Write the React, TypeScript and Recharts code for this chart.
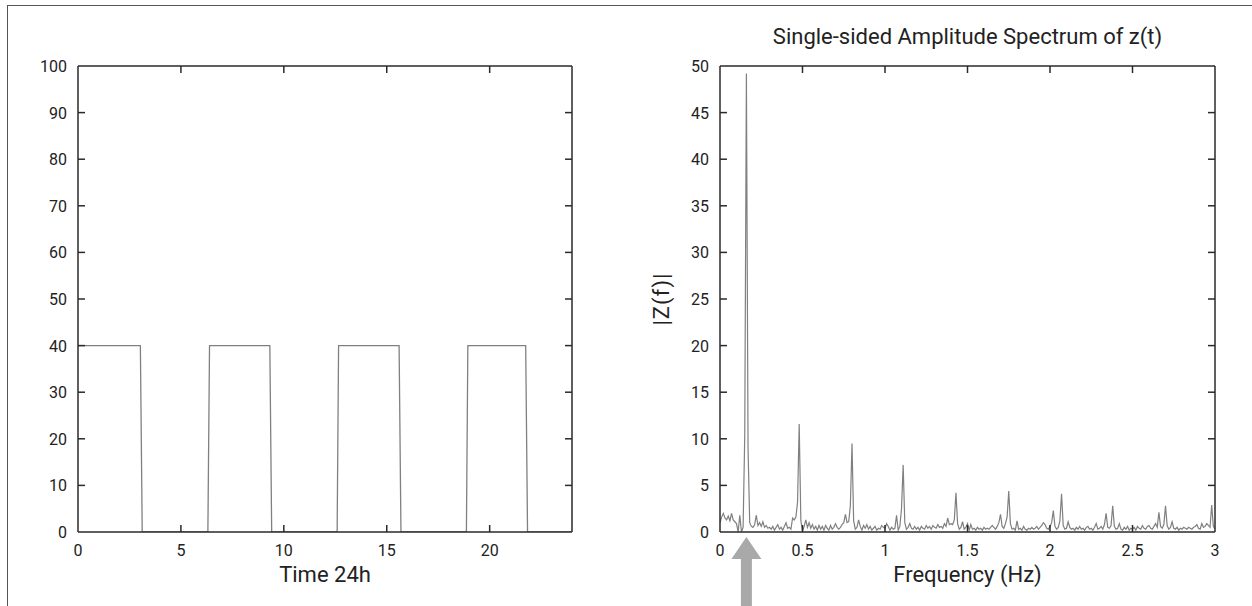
import React from "react";
import { LineChart, Line, XAxis, YAxis, ReferenceDot } from "recharts";

// ---------- Left chart data (square wave, Time 24h) ----------
const TIME_H = [0, 3.03, 3.12, 6.31, 6.39, 9.32, 9.41, 12.59, 12.66, 15.6, 15.69, 18.87, 18.94, 21.75, 21.84, 24];
const LEVEL = [40, 40, 0, 0, 40, 40, 0, 0, 40, 40, 0, 0, 40, 40, 0, 0];
const TIME_TICKS = [0, 5, 10, 15, 20];
const LEVEL_TICKS = [0, 10, 20, 30, 40, 50, 60, 70, 80, 90, 100];

// ---------- Right chart data (amplitude spectrum) ----------
const FREQ_STEP = 0.01; // Hz between samples
const AMPLITUDE = [
  // 0.00 - 0.09
  1.0, 1.6, 2.0, 1.5, 1.3, 1.7, 1.2, 2.0, 1.3, 1.1,
  // 0.10 - 0.19
  0.9, 0.0, 1.8, 0.0, 0.5, 10.4, 49.2, 9.0, 1.0, 0.6,
  // 0.20 - 0.29
  0.5, 0.8, 1.8, 0.7, 1.0, 0.6, 1.1, 0.5, 0.7, 0.4,
  // 0.30 - 0.39
  0.5, 0.3, 0.6, 0.2, 0.5, 0.8, 0.3, 0.5, 0.2, 0.6,
  // 0.40 - 0.49
  1.0, 0.4, 0.5, 0.3, 1.5, 1.3, 1.6, 3.2, 11.6, 1.2,
  // 0.50 - 0.59
  0.1, 0.6, 1.3, 0.5, 1.0, 0.4, 0.8, 0.3, 0.6, 0.2,
  // 0.60 - 0.69
  0.7, 0.3, 0.6, 0.2, 0.7, 0.4, 0.2, 0.7, 0.3, 0.5,
  // 0.70 - 0.79
  0.9, 0.5, 0.3, 0.5, 0.8, 1.0, 1.9, 1.0, 1.1, 2.8,
  // 0.80 - 0.89
  9.5, 1.2, 0.3, 0.5, 1.3, 0.6, 0.2, 0.7, 0.4, 0.8,
  // 0.90 - 0.99
  0.3, 0.6, 0.2, 0.4, 0.6, 0.2, 0.4, 0.3, 0.7, 0.5,
  // 1.00 - 1.09
  0.4, 0.9, 0.6, 0.2, 0.5, 0.3, 0.4, 1.8, 0.2, 0.6,
  // 1.10 - 1.19
  2.5, 7.2, 1.0, 0.3, 0.5, 0.9, 0.4, 0.3, 0.6, 0.3,
  // 1.20 - 1.29
  0.5, 0.2, 0.6, 0.4, 0.3, 0.7, 0.4, 0.6, 0.3, 0.7,
  // 1.30 - 1.39
  0.5, 0.4, 0.8, 0.5, 0.6, 0.4, 0.9, 0.6, 1.5, 0.8,
  // 1.40 - 1.49
  0.9, 0.8, 1.3, 4.2, 0.9, 0.3, 0.5, 1.1, 0.3, 0.5,
  // 1.50 - 1.59
  0.9, 0.2, 0.8, 0.3, 0.4, 0.2, 0.5, 0.3, 0.4, 0.2,
  // 1.60 - 1.69
  0.5, 0.3, 0.4, 0.3, 0.5, 0.7, 0.5, 0.3, 0.6, 1.0,
  // 1.70 - 1.79
  1.9, 0.6, 0.4, 0.9, 1.6, 4.4, 0.9, 0.3, 0.4, 0.2,
  // 1.80 - 1.89
  1.2, 0.3, 0.4, 0.2, 0.6, 0.3, 0.2, 0.4, 0.3, 0.5,
  // 1.90 - 1.99
  0.3, 0.4, 0.6, 0.3, 0.5, 0.7, 1.0, 0.8, 0.4, 0.3,
  // 2.00 - 2.09
  0.6, 1.0, 2.3, 0.6, 0.3, 0.5, 1.2, 4.1, 0.7, 0.3,
  // 2.10 - 2.19
  0.4, 1.1, 0.5, 0.3, 0.4, 0.2, 0.5, 0.3, 0.6, 0.3,
  // 2.20 - 2.29
  0.4, 0.2, 0.5, 0.6, 0.3, 0.4, 0.2, 0.5, 0.9, 0.3,
  // 2.30 - 2.39
  0.4, 0.6, 0.3, 0.8, 2.0, 0.5, 0.4, 0.7, 2.8, 0.6,
  // 2.40 - 2.49
  0.3, 0.4, 0.9, 0.3, 0.2, 0.5, 0.3, 0.6, 0.2, 0.4,
  // 2.50 - 2.59
  0.3, 0.5, 0.2, 0.6, 0.4, 0.3, 0.7, 0.4, 0.3, 0.6,
  // 2.60 - 2.69
  0.7, 0.4, 0.3, 0.6, 0.9, 0.5, 2.1, 0.6, 0.4, 0.8,
  // 2.70 - 2.79
  2.8, 0.7, 0.3, 0.5, 1.1, 0.4, 0.3, 0.5, 0.2, 0.4,
  // 2.80 - 2.89
  0.3, 0.5, 0.4, 0.3, 0.5, 0.4, 0.3, 0.5, 0.6, 0.8,
  // 2.90 - 2.99
  0.4, 0.3, 0.9, 0.5, 0.6, 0.9, 0.7, 0.5, 2.9, 0.6,
  // 3.00
  0.3,
];
const FREQ_TICKS = [0, 0.5, 1, 1.5, 2, 2.5, 3];
const AMP_TICKS = [0, 5, 10, 15, 20, 25, 30, 35, 40, 45, 50];
const ARROW_FREQ = 0.16;

const TITLE = "Single-sided Amplitude Spectrum of z(t)";
const LEFT_XLABEL = "Time 24h";
const RIGHT_XLABEL = "Frequency (Hz)";
const RIGHT_YLABEL = "|Z(f)|";

const timeData = TIME_H.map((t, i) => ({ t, v: LEVEL[i] }));
const specData = AMPLITUDE.map((a, i) => ({ f: Math.round(i * FREQ_STEP * 100) / 100, a }));

const FONT = "Roboto, 'Liberation Sans', sans-serif";
const AXIS = "#2a2a2a";
const LINE = "#808080";
const TICK_LEN = 7;
const TICK_FS = 16;
const LABEL_FS = 22;

const fmt = (v: number) => String(v);
const inner = (v: number, lo: number, hi: number) => v > lo + 1e-9 && v < hi - 1e-9;

const makeBottomTick = (lo: number, hi: number) => (props: any) => {
  const { x, y, payload } = props;
  const v = payload.value;
  return (
    <g>
      {inner(v, lo, hi) && <line x1={x} x2={x} y1={y} y2={y - TICK_LEN} stroke={AXIS} strokeWidth={1.5} />}
      <text x={x} y={y + 24} textAnchor="middle" fontSize={TICK_FS} fill="#222" fontFamily={FONT}>
        {fmt(v)}
      </text>
    </g>
  );
};

const makeTopTick = (lo: number, hi: number) => (props: any) => {
  const { x, y, payload } = props;
  const v = payload.value;
  if (!inner(v, lo, hi)) return <g />;
  return <line x1={x} x2={x} y1={y} y2={y + TICK_LEN} stroke={AXIS} strokeWidth={1.5} />;
};

const makeLeftTick = (lo: number, hi: number) => (props: any) => {
  const { x, y, payload } = props;
  const v = payload.value;
  return (
    <g>
      {inner(v, lo, hi) && <line x1={x} x2={x + TICK_LEN} y1={y} y2={y} stroke={AXIS} strokeWidth={1.5} />}
      <text x={x - 11} y={y + 6} textAnchor="end" fontSize={TICK_FS} fill="#222" fontFamily={FONT}>
        {fmt(v)}
      </text>
    </g>
  );
};

const makeRightTick = (lo: number, hi: number) => (props: any) => {
  const { x, y, payload } = props;
  const v = payload.value;
  if (!inner(v, lo, hi)) return <g />;
  return <line x1={x} x2={x - TICK_LEN} y1={y} y2={y} stroke={AXIS} strokeWidth={1.5} />;
};

const Arrow = (props: any) => {
  const { cx, cy } = props;
  if (typeof cx !== "number" || typeof cy !== "number" || !isFinite(cx) || !isFinite(cy)) return <g />;
  const tip = cy + 5;
  const headBase = tip + 22;
  const bottom = tip + 70;
  const hw = 15;
  const sw = 5.5;
  const pts = [
    [cx, tip],
    [cx + hw, headBase],
    [cx + sw, headBase],
    [cx + sw, bottom],
    [cx - sw, bottom],
    [cx - sw, headBase],
    [cx - hw, headBase],
  ]
    .map((p) => p.join(","))
    .join(" ");
  return <polygon points={pts} fill="#a9a9a9" stroke="none" />;
};

const axisLineStyle = { stroke: AXIS, strokeWidth: 1.5 };

// Axis sizes (plot-area box is fixed via margins + these sizes)
const YW = 40; // left y-axis width
const XH = 30; // bottom x-axis height
const TH = 10; // top mirror axis height
const RW = 10; // right mirror axis width

const leftBottomTick = makeBottomTick(0, 24);
const leftTopTick = makeTopTick(0, 24);
const leftLeftTick = makeLeftTick(0, 100);
const leftRightTick = makeRightTick(0, 100);
const rightBottomTick = makeBottomTick(0, 3);
const rightTopTick = makeTopTick(0, 3);
const rightLeftTick = makeLeftTick(0, 50);
const rightRightTick = makeRightTick(0, 50);

export default function App() {
  const W = 626;
  const H = 606;
  const leftPlot = { l: 78, r: 572, t: 66, b: 532 };
  const rightPlot = { l: 720 - W, r: 1215 - W, t: 66, b: 532 };
  return (
    <div
      style={{
        position: "absolute",
        left: 0,
        top: 0,
        width: 1252,
        height: 606,
        overflow: "hidden",
        background: "#fff",
        fontFamily: FONT,
      }}
    >
      <div
        style={{
          position: "absolute",
          left: 7,
          top: 5,
          width: 1400,
          height: 800,
          borderTop: "1.5px solid #555",
          borderLeft: "1.5px solid #555",
        }}
      />
      {/* Left chart */}
      <div style={{ position: "absolute", left: 0, top: 0 }}>
        <LineChart
          width={W}
          height={H}
          data={timeData}
          margin={{ top: leftPlot.t - TH, left: leftPlot.l - YW, right: W - leftPlot.r - RW, bottom: H - leftPlot.b - XH }}
        >
          <XAxis
            dataKey="t"
            type="number"
            domain={[0, 24]}
            ticks={TIME_TICKS}
            height={XH}
            tickSize={0}
            tickMargin={0}
            axisLine={axisLineStyle}
            tickLine={false}
            tick={leftBottomTick}
            interval={0}
            allowDataOverflow
          />
          <XAxis
            xAxisId="top"
            dataKey="t"
            orientation="top"
            type="number"
            domain={[0, 24]}
            ticks={TIME_TICKS}
            height={TH}
            tickSize={0}
            tickMargin={0}
            axisLine={axisLineStyle}
            tickLine={false}
            tick={leftTopTick}
            interval={0}
            allowDataOverflow
          />
          <YAxis
            type="number"
            domain={[0, 100]}
            ticks={LEVEL_TICKS}
            width={YW}
            tickSize={0}
            tickMargin={0}
            axisLine={axisLineStyle}
            tickLine={false}
            tick={leftLeftTick}
            interval={0}
            allowDataOverflow
          />
          <YAxis
            yAxisId="right"
            orientation="right"
            type="number"
            domain={[0, 100]}
            ticks={LEVEL_TICKS}
            width={RW}
            tickSize={0}
            tickMargin={0}
            axisLine={axisLineStyle}
            tickLine={false}
            tick={leftRightTick}
            interval={0}
            allowDataOverflow
          />
          <Line type="linear" dataKey="v" stroke={LINE} strokeWidth={1.3} dot={false} isAnimationActive={false} />
        </LineChart>
        <div
          style={{
            position: "absolute",
            left: leftPlot.l,
            width: leftPlot.r - leftPlot.l,
            top: 562,
            textAlign: "center",
            fontSize: LABEL_FS,
            lineHeight: "26px",
            color: "#222",
          }}
        >
          {LEFT_XLABEL}
        </div>
      </div>

      {/* Right chart */}
      <div style={{ position: "absolute", left: W, top: 0 }}>
        <LineChart
          width={W}
          height={H}
          data={specData}
          margin={{ top: rightPlot.t - TH, left: rightPlot.l - YW, right: W - rightPlot.r - RW, bottom: H - rightPlot.b - XH }}
        >
          <XAxis
            dataKey="f"
            type="number"
            domain={[0, 3]}
            ticks={FREQ_TICKS}
            height={XH}
            tickSize={0}
            tickMargin={0}
            axisLine={axisLineStyle}
            tickLine={false}
            tick={rightBottomTick}
            interval={0}
            allowDataOverflow
          />
          <XAxis
            xAxisId="top"
            dataKey="f"
            orientation="top"
            type="number"
            domain={[0, 3]}
            ticks={FREQ_TICKS}
            height={TH}
            tickSize={0}
            tickMargin={0}
            axisLine={axisLineStyle}
            tickLine={false}
            tick={rightTopTick}
            interval={0}
            allowDataOverflow
          />
          <YAxis
            type="number"
            domain={[0, 50]}
            ticks={AMP_TICKS}
            width={YW}
            tickSize={0}
            tickMargin={0}
            axisLine={axisLineStyle}
            tickLine={false}
            tick={rightLeftTick}
            interval={0}
            allowDataOverflow
          />
          <YAxis
            yAxisId="right"
            orientation="right"
            type="number"
            domain={[0, 50]}
            ticks={AMP_TICKS}
            width={RW}
            tickSize={0}
            tickMargin={0}
            axisLine={axisLineStyle}
            tickLine={false}
            tick={rightRightTick}
            interval={0}
            allowDataOverflow
          />
          <Line type="linear" dataKey="a" stroke={LINE} strokeWidth={1.2} dot={false} isAnimationActive={false} />
          <ReferenceDot
            x={ARROW_FREQ}
            y={0}
            r={0}
            fill="none"
            stroke="none"
            ifOverflow="visible"
            shape={(p: any) => <Arrow {...p} />}
          />
        </LineChart>
        <div
          style={{
            position: "absolute",
            left: rightPlot.l,
            width: rightPlot.r - rightPlot.l,
            top: 24,
            textAlign: "center",
            fontSize: LABEL_FS,
            lineHeight: "26px",
            color: "#222",
          }}
        >
          {TITLE}
        </div>
        <div
          style={{
            position: "absolute",
            left: rightPlot.l,
            width: rightPlot.r - rightPlot.l,
            top: 562,
            textAlign: "center",
            fontSize: LABEL_FS,
            lineHeight: "26px",
            color: "#222",
          }}
        >
          {RIGHT_XLABEL}
        </div>
        <div
          style={{
            position: "absolute",
            left: 662 - W - 50,
            top: 286,
            width: 100,
            textAlign: "center",
            fontSize: LABEL_FS,
            lineHeight: "26px",
            letterSpacing: "1px",
            color: "#222",
            transform: "rotate(-90deg)",
          }}
        >
          {RIGHT_YLABEL}
        </div>
      </div>
    </div>
  );
}
